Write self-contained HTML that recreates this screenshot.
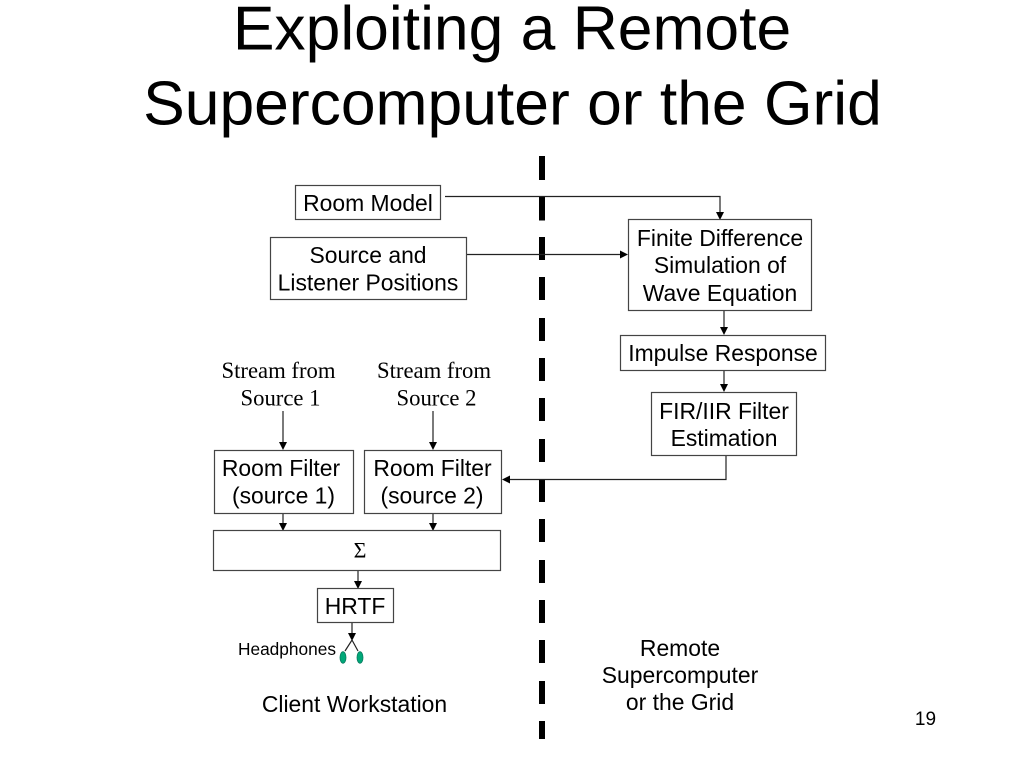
<!DOCTYPE html>
<html><head><meta charset="utf-8"><style>
html,body{margin:0;padding:0;background:#fff}
svg{display:block}
text{font-family:"Liberation Sans",sans-serif;fill:#000}
.s{font-size:22.9px}
.t{font-size:62.4px}
.r{font-family:"Liberation Serif",serif;font-size:22.7px}
rect.b{fill:#fff;stroke:#444;stroke-width:1.2}
.l{stroke:#222;stroke-width:1.2;fill:none}
</style></head><body>
<svg width="1024" height="768" viewBox="0 0 1024 768" xmlns="http://www.w3.org/2000/svg">
<text class="t" x="512" y="49.500" text-anchor="middle">Exploiting a Remote</text>
<text class="t" x="512.500" y="124.500" text-anchor="middle">Supercomputer or the Grid</text>

<g fill="#000">
<rect x="539" y="156" width="6" height="24"/><rect x="539" y="196.500" width="6" height="24"/>
<rect x="539" y="237" width="6" height="23"/><rect x="539" y="277" width="6" height="23"/>
<rect x="539" y="318" width="6" height="23"/><rect x="539" y="358" width="6" height="23"/>
<rect x="539" y="398" width="6" height="23"/><rect x="539" y="439" width="6" height="23"/>
<rect x="539" y="479" width="6" height="23"/><rect x="539" y="519" width="6" height="23"/>
<rect x="539" y="560" width="6" height="23"/><rect x="539" y="600" width="6" height="23"/>
<rect x="539" y="640" width="6" height="23"/><rect x="539" y="681" width="6" height="23"/>
<rect x="539" y="721" width="6" height="18"/>
</g>

<polyline class="l" points="445,196.500 720,196.500 720,212"/>
<polygon points="716,212 724,212 720,220"/>
<line class="l" x1="467" y1="254.500" x2="620" y2="254.500"/>
<polygon points="620,250.500 628,254.500 620,258.500"/>
<line class="l" x1="724" y1="310" x2="724" y2="327"/>
<polygon points="720,327 728,327 724,335"/>
<line class="l" x1="724" y1="371" x2="724" y2="384"/>
<polygon points="720,384 728,384 724,392"/>
<polyline class="l" points="726,456 726,479.500 510,479.500"/>
<polygon points="510,475.500 502,479.500 510,483.500"/>
<line class="l" x1="283" y1="411" x2="283" y2="442"/>
<polygon points="279,442 287,442 283,450"/>
<line class="l" x1="433" y1="411" x2="433" y2="442"/>
<polygon points="429,442 437,442 433,450"/>
<line class="l" x1="283" y1="514" x2="283" y2="523"/>
<polygon points="279,523 287,523 283,531"/>
<line class="l" x1="433" y1="514" x2="433" y2="523"/>
<polygon points="429,523 437,523 433,531"/>
<line class="l" x1="358" y1="571" x2="358" y2="581"/>
<polygon points="354,581 362,581 358,589"/>
<line class="l" x1="352" y1="623" x2="352" y2="633"/>
<polygon points="348,633 356,633 352,641"/>
<polyline class="l" points="345,651 352,640 358,651" stroke-width="1"/>
<ellipse cx="343" cy="657.500" rx="3" ry="5.800" fill="#00a878" stroke="#0a7a60" stroke-width="0.800"/>
<ellipse cx="360" cy="657.500" rx="3" ry="5.800" fill="#00a878" stroke="#0a7a60" stroke-width="0.800"/>

<rect class="b" x="295.500" y="185.500" width="145" height="34"/>
<text class="s" x="368" y="211" text-anchor="middle">Room Model</text>
<rect class="b" x="270.500" y="237.500" width="196" height="62"/>
<text class="s" x="368" y="263" text-anchor="middle">Source and</text>
<text class="s" x="368" y="290.500" text-anchor="middle">Listener Positions</text>
<rect class="b" x="628.500" y="219.500" width="183" height="91"/>
<text class="s" x="720" y="246" text-anchor="middle">Finite Difference</text>
<text class="s" x="720" y="273" text-anchor="middle">Simulation of</text>
<text class="s" x="720" y="301" text-anchor="middle">Wave Equation</text>
<rect class="b" x="620.500" y="335.500" width="205" height="35"/>
<text class="s" x="723" y="361" text-anchor="middle">Impulse Response</text>
<rect class="b" x="651.500" y="392.500" width="145" height="63"/>
<text class="s" x="724" y="419" text-anchor="middle">FIR/IIR Filter</text>
<text class="s" x="724" y="446" text-anchor="middle">Estimation</text>
<rect class="b" x="214.500" y="450.500" width="139" height="63"/>
<text class="s" x="281" y="476" text-anchor="middle">Room Filter</text>
<text class="s" x="283.500" y="503.500" text-anchor="middle">(source 1)</text>
<rect class="b" x="364.500" y="450.500" width="137" height="63"/>
<text class="s" x="432.500" y="476" text-anchor="middle">Room Filter</text>
<text class="s" x="432" y="503.500" text-anchor="middle">(source 2)</text>
<rect class="b" x="213.500" y="530.500" width="287" height="40"/>
<text x="360" y="557.500" text-anchor="middle" style="font-family:'Liberation Serif',serif;font-size:22px">Σ</text>
<rect class="b" x="317.500" y="588.500" width="76" height="34"/>
<text class="s" x="355" y="614" text-anchor="middle">HRTF</text>

<text class="r" x="278.500" y="378" text-anchor="middle">Stream from</text>
<text class="r" x="280.500" y="405.500" text-anchor="middle">Source 1</text>
<text class="r" x="434" y="378" text-anchor="middle">Stream from</text>
<text class="r" x="436.500" y="405.500" text-anchor="middle">Source 2</text>
<text x="287" y="655" text-anchor="middle" font-size="17.300px">Headphones</text>
<text class="s" x="354.500" y="712" text-anchor="middle">Client Workstation</text>
<text class="s" x="680" y="656" text-anchor="middle">Remote</text>
<text class="s" x="680" y="683" text-anchor="middle">Supercomputer</text>
<text class="s" x="680" y="710" text-anchor="middle">or the Grid</text>
<text x="925.500" y="725" text-anchor="middle" font-size="19px">19</text>
</svg>
</body></html>
